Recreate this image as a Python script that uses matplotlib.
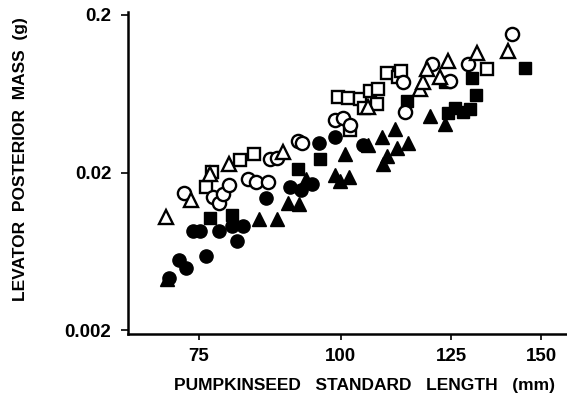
import matplotlib
matplotlib.use('Agg')
import matplotlib.pyplot as plt
from matplotlib.ticker import FixedLocator, FixedFormatter, NullLocator

plt.rcParams['font.family'] = ['Liberation Sans', 'DejaVu Sans']
plt.rcParams['font.weight'] = 'bold'

# open triangles
tri_open_x = [70.2, 73.8, 76.8, 79.7, 89.0, 105.6, 117.3, 118.0, 119.0, 122.2, 124.2, 131.6, 140.2]
tri_open_y = [0.0105, 0.0133, 0.0197, 0.0228, 0.0272, 0.0525, 0.0683, 0.0746, 0.0915, 0.0803, 0.1028, 0.1156, 0.1190]

# open circles
circ_open_x = [72.8, 77.2, 78.1, 78.7, 79.7, 82.8, 84.2, 86.2, 86.7, 87.8, 91.6, 92.5,
               98.8, 100.4, 101.8, 113.3, 113.8, 120.2, 124.7, 129.3, 141.3]
circ_open_y = [0.0149, 0.0139, 0.0129, 0.0147, 0.0166, 0.0181, 0.0175, 0.0175, 0.0245, 0.0249, 0.0319, 0.0310,
               0.0428, 0.0447, 0.0403, 0.0746, 0.0482, 0.0984, 0.0767, 0.0984, 0.1526]

# open squares
sq_open_x = [76.1, 77.0, 81.6, 83.8, 99.4, 101.4, 103.9, 104.8, 101.8, 106.0, 107.8, 107.5,
             109.7, 112.2, 112.9, 134.3]
sq_open_y = [0.0163, 0.0203, 0.0241, 0.0264, 0.0607, 0.0598, 0.0590, 0.0517, 0.0370, 0.0663, 0.0683, 0.0548,
             0.0851, 0.0803, 0.0876, 0.0915]

# filled squares
sq_fill_x = [76.8, 80.2, 91.6, 95.8, 114.3, 123.4, 124.2, 126.0, 128.0, 129.8, 130.3, 131.4, 145.0]
sq_fill_y = [0.0103, 0.0108, 0.0212, 0.0245, 0.0573, 0.0746, 0.0475, 0.0517, 0.0488, 0.0510, 0.0791, 0.0625, 0.0928]

# filled circles
circ_fill_x = [70.6, 72.0, 73.1, 74.1, 75.2, 76.1, 78.1, 80.3, 81.1, 82.1, 85.9, 90.3, 92.2, 94.4,
               95.6, 98.8, 104.5]
circ_fill_y = [0.00431, 0.00560, 0.00493, 0.00857, 0.00857, 0.00594, 0.00846, 0.00921, 0.00740, 0.00921,
               0.0137, 0.0161, 0.0154, 0.0170, 0.0310, 0.0334, 0.0297]

# filled triangles
tri_fill_x = [70.3, 84.7, 87.8, 89.8, 91.8, 93.1, 98.8, 99.8, 101.6, 100.8, 105.6, 108.6, 108.9,
              109.7, 111.5, 112.0, 114.5, 119.7, 123.4]
tri_fill_y = [0.00425, 0.0101, 0.0102, 0.0129, 0.0127, 0.0183, 0.0194, 0.0178, 0.0188, 0.0264, 0.0297,
              0.0334, 0.0228, 0.0256, 0.0380, 0.0288, 0.0310, 0.0460, 0.0409]

x_ticks = [75, 100, 125, 150]
y_ticks = [0.002, 0.02, 0.2]
y_tick_labels = ['0.002', '0.02', '0.2']

fig = plt.figure(figsize=(5.67, 4.09), dpi=100)
ax = fig.add_axes([0.2257, 0.1834, 0.7743, 0.7873])

ms = 9.5
ew = 1.7
ax.plot(tri_fill_x, tri_fill_y, '^', ms=ms + 1, color='black', mec='black', ls='none')
ax.plot(circ_fill_x, circ_fill_y, 'o', ms=ms, color='black', mec='black', ls='none')
ax.plot(sq_fill_x, sq_fill_y, 's', ms=ms - 1, color='black', mec='black', ls='none')
ax.plot(sq_open_x, sq_open_y, 's', ms=ms - 1, mfc='white', mec='black', mew=ew, ls='none')
ax.plot(circ_open_x, circ_open_y, 'o', ms=ms, mfc='white', mec='black', mew=ew, ls='none')
ax.plot(tri_open_x, tri_open_y, '^', ms=ms + 1, mfc='white', mec='black', mew=ew, ls='none')

ax.set_xscale('log')
ax.set_yscale('log')
ax.set_xlim(65, 158)
ax.set_ylim(0.00189, 0.209)

ax.xaxis.set_major_locator(FixedLocator(x_ticks))
ax.xaxis.set_major_formatter(FixedFormatter([str(t) for t in x_ticks]))
ax.xaxis.set_minor_locator(NullLocator())
ax.yaxis.set_major_locator(FixedLocator(y_ticks))
ax.yaxis.set_major_formatter(FixedFormatter(y_tick_labels))
ax.yaxis.set_minor_locator(NullLocator())

for s in ['top', 'right']:
    ax.spines[s].set_visible(False)
for s in ['left', 'bottom']:
    ax.spines[s].set_linewidth(1.8)

ax.tick_params(axis='y', direction='out', length=5, width=1.2, pad=7, labelsize=13.5)
ax.tick_params(axis='x', direction='out', length=4, width=1.2, pad=6, labelsize=13.5)
for lab in ax.get_xticklabels() + ax.get_yticklabels():
    lab.set_fontweight('bold')

fig.text(0.642, 0.058, 'PUMPKINSEED   STANDARD   LENGTH   (mm)', ha='center', va='center',
         fontsize=12.5, fontweight='bold')
fig.text(0.036, 0.612, 'LEVATOR  POSTERIOR  MASS  (g)', ha='center', va='center',
         rotation=90, fontsize=12.5, fontweight='bold')

fig.savefig('out.png', dpi=100)
